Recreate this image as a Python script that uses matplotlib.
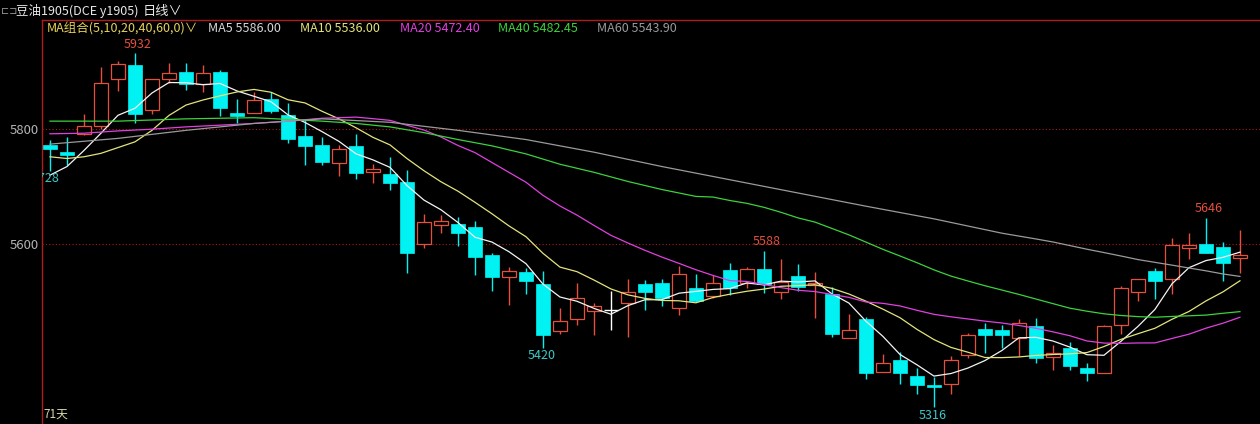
import matplotlib.pyplot as plt
import matplotlib.transforms as mtransforms
import numpy as np
import pandas as pd

plt.rcParams['font.family'] = ['Noto Sans CJK SC', 'DejaVu Sans']

# daily bars
opens = [5772, 5760, 5791, 5805, 5888, 5911, 5833, 5887, 5899, 5879,
         5899, 5828, 5829, 5852, 5824, 5788, 5773, 5742, 5770, 5725,
         5722, 5708, 5600, 5634, 5635, 5630, 5581, 5543, 5551, 5530,
         5449, 5469, 5484, 5485, 5497, 5530, 5533, 5489, 5523, 5510,
         5555, 5533, 5557, 5516, 5544, 5529, 5514, 5436, 5470, 5378,
         5398, 5370, 5355, 5356, 5407, 5452, 5451, 5436, 5457, 5403,
         5419, 5384, 5376, 5460, 5517, 5553, 5540, 5593, 5600, 5595,
         5575]
highs = [5781, 5787, 5826, 5908, 5918, 5932, 5888, 5915, 5915, 5911,
         5903, 5852, 5865, 5865, 5846, 5816, 5787, 5772, 5792, 5739,
         5751, 5729, 5652, 5650, 5647, 5641, 5584, 5561, 5558, 5553,
         5488, 5533, 5498, 5519, 5539, 5537, 5539, 5562, 5548, 5546,
         5568, 5560, 5588, 5574, 5565, 5552, 5526, 5478, 5473, 5409,
         5413, 5384, 5368, 5406, 5446, 5462, 5459, 5469, 5472, 5424,
         5429, 5394, 5459, 5528, 5540, 5558, 5610, 5620, 5646, 5604,
         5624]
lows = [5728, 5737, 5790, 5800, 5867, 5810, 5827, 5880, 5868, 5865,
        5823, 5811, 5829, 5828, 5776, 5737, 5737, 5718, 5714, 5706,
        5695, 5550, 5594, 5620, 5597, 5546, 5519, 5494, 5514, 5420,
        5443, 5459, 5441, 5450, 5438, 5486, 5492, 5477, 5500, 5506,
        5511, 5523, 5515, 5504, 5519, 5471, 5438, 5436, 5365, 5378,
        5356, 5340, 5316, 5339, 5401, 5410, 5419, 5405, 5394, 5381,
        5381, 5362, 5376, 5443, 5501, 5504, 5513, 5574, 5585, 5536,
        5550]
closes = [5765, 5755, 5806, 5881, 5914, 5826, 5888, 5897, 5879, 5897,
          5837, 5823, 5850, 5832, 5783, 5771, 5743, 5765, 5724, 5730,
          5706, 5585, 5638, 5640, 5619, 5578, 5543, 5554, 5536, 5441,
          5466, 5506, 5492, 5485, 5516, 5517, 5507, 5548, 5501, 5533,
          5524, 5557, 5530, 5534, 5526, 5533, 5444, 5450, 5376, 5394,
          5376, 5354, 5352, 5398, 5442, 5441, 5442, 5462, 5402, 5410,
          5388, 5376, 5457, 5523, 5540, 5536, 5598, 5598, 5585, 5568,
          5581]

# moving averages: start of each line (bars before the window is full)
ma_periods = [5, 10, 20, 40, 60]
ma_colors = ['#f4f4f4', '#e4e47c', '#e040e0', '#3cd23c', '#9a9a9a']
ma_lead_bars = [
    [1, 2, 3, 4],
    [1, 2, 3, 4, 5, 6, 7, 8, 9],
    [1, 3, 5, 7, 9, 11, 13, 15, 17, 19],
    [1, 5, 9, 13, 17, 19, 21, 23, 25, 27, 29, 31, 33, 35, 37, 39],
    [1, 5, 9, 13, 17, 21, 25, 29, 33, 37, 41, 45, 49, 53, 57, 59],
]
ma_lead_vals = [
    [5720, 5735, 5763, 5793],
    [5752, 5749, 5752, 5758, 5768, 5778, 5798, 5824, 5842],
    [5792, 5793, 5797, 5800, 5804, 5807, 5810, 5814, 5819, 5821],
    [5814, 5814, 5818, 5820, 5814, 5810, 5804, 5794, 5782, 5771, 5757, 5739,
     5725, 5709, 5695, 5683],
    [5774, 5784, 5798, 5810, 5818, 5812, 5798, 5782, 5760, 5735, 5712, 5689,
     5666, 5644, 5619, 5609],
]
ma_legend = ['MA5 5586.00', 'MA10 5536.00', 'MA20 5472.40', 'MA40 5482.45', 'MA60 5543.90']
legend_colors = ['#d8d8d8', '#e4e47c', '#e040e0', '#3cd23c', '#9a9a9a']
legend_x = [208, 300, 400, 498, 597]

# marked extremes: bar number, which end
mark_bars = [6, 1, 30, 43, 53, 69]
mark_side = ['high', 'low', 'low', 'high', 'low', 'high']

RED = '#e4503e'
CYAN = '#00f2f2'

o = np.array(opens, float)
h = np.array(highs, float)
l = np.array(lows, float)
c = np.array(closes, float)
n = len(c)
x = np.arange(n)

fig = plt.figure(figsize=(12.6, 4.24), dpi=100, facecolor='black')
ax = fig.add_axes([42 / 1260, 0, 1218 / 1260, 404 / 424])
ax.set_facecolor('black')
ax.set_xlim(-0.47, 71.18)
ax.set_ylim(5287, 5990)

for y in [5600, 5800]:
    ax.axhline(y, color='#a81c1c', lw=0.8, ls=(0, (1, 2)), zorder=1)

w = 0.84
top = np.maximum(o, c)
bot = np.minimum(o, c)
up = c > o
dn = c < o
fl = c == o

ax.vlines(x[up], top[up], h[up], color=RED, lw=1, zorder=2)
ax.vlines(x[up], l[up], bot[up], color=RED, lw=1, zorder=2)
ax.bar(x[up], (c - o)[up], bottom=o[up], width=w, facecolor='black',
       edgecolor=RED, linewidth=0.9, zorder=3)

ax.vlines(x[dn], l[dn], h[dn], color=CYAN, lw=1, zorder=2)
ax.bar(x[dn], (o - c)[dn], bottom=c[dn], width=w, color=CYAN,
       edgecolor=CYAN, linewidth=0.5, zorder=3)

ax.vlines(x[fl], l[fl], h[fl], color='white', lw=1, zorder=2)
ax.hlines(o[fl], x[fl] - w / 2, x[fl] + w / 2, color='white', lw=1, zorder=3)

# moving average lines
cs = pd.Series(c)
for p, col, lb, lv in zip(ma_periods, ma_colors, ma_lead_bars, ma_lead_vals):
    ma = cs.rolling(p).mean().to_numpy()
    xs = list(np.array(lb) - 1) + list(x[p - 1:])
    ys = list(lv) + list(ma[p - 1:])
    ax.plot(xs, ys, color=col, lw=0.9, zorder=4)

for b, side in zip(mark_bars, mark_side):
    i = b - 1
    if side == 'high':
        off = mtransforms.offset_copy(ax.transData, fig=fig, x=2, y=2, units='points')
        ax.text(x[i], h[i], f'{h[i]:.0f}', transform=off, ha='center', va='bottom',
                color='#e4503e', fontsize=9, zorder=5, clip_on=False)
    else:
        off = mtransforms.offset_copy(ax.transData, fig=fig, x=-3 if i == 0 else -1,
                                      y=-1, units='points')
        ax.text(x[i], l[i], f'{l[i]:.0f}', transform=off, ha='center', va='top',
                color='#3cc8c8', fontsize=9, zorder=5, clip_on=True)

ax.set_xticks([])
ax.set_yticks([5600, 5800])
ax.tick_params(axis='y', length=0, colors='#b4b4b4', labelsize=9.5, pad=2)
for s in ['right', 'bottom']:
    ax.spines[s].set_visible(False)
for s in ['left', 'top']:
    ax.spines[s].set_color('#b01c1c')
    ax.spines[s].set_linewidth(1)

# header and legend row
def px(xp, yp):
    return xp / 1260, 1 - yp / 424

fig.text(*px(1, 11), '⊏⊐', color='#9a9a9a', fontsize=7, va='center')
fig.text(*px(16, 11), '豆油1905(DCE y1905)', color='#e8e8e8', fontsize=9, va='center')
fig.text(*px(143, 11), '日线∨', color='#e8e8e8', fontsize=9.5, va='center')
fig.text(*px(47, 29), 'MA组合(5,10,20,40,60,0)∨', color='#e6d25a', fontsize=9, va='center')
for txt, col, xp in zip(ma_legend, legend_colors, legend_x):
    fig.text(*px(xp, 29), txt, color=col, fontsize=9, va='center')
fig.text(*px(43, 414), f'{n}天', color='#d8d8a8', fontsize=8.5, va='center')

fig.savefig('out.png', dpi=100, facecolor='black')
